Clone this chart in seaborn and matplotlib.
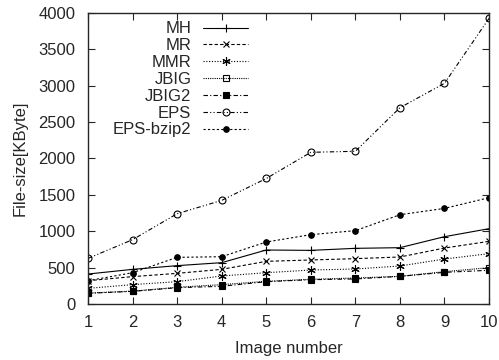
import pandas as pd
import numpy as np
import matplotlib
matplotlib.use('Agg')
import matplotlib.pyplot as plt
import seaborn as sns

# values (KByte)
images = [1, 2, 3, 4, 5, 6, 7, 8, 9, 10]
mh = [412, 476, 527, 568, 742, 737, 765, 774, 925, 1035]
mr = [320, 376, 421, 476, 586, 605, 623, 646, 769, 861]
mmr = [215, 266, 307, 385, 430, 467, 481, 522, 618, 692]
jbig = [150, 176, 229, 266, 311, 339, 357, 380, 444, 499]
jbig2 = [147, 174, 224, 243, 307, 334, 344, 380, 435, 463]
eps = [627, 884, 1241, 1424, 1725, 2085, 2099, 2698, 3033, 3926]
eps_bzip2 = [320, 430, 641, 650, 852, 953, 1008, 1227, 1314, 1461]

series = {
    'MH': mh, 'MR': mr, 'MMR': mmr, 'JBIG': jbig,
    'JBIG2': jbig2, 'EPS': eps, 'EPS-bzip2': eps_bzip2,
}

styles = {
    'MH': dict(ls='-', marker='+', ms=6, mfc='black'),
    'MR': dict(ls=(0, (3, 2)), marker='x', ms=5, mfc='black'),
    'MMR': dict(ls=(0, (1, 1.5)), marker=(6, 2, 0), ms=6, mfc='black'),
    'JBIG': dict(ls=(0, (1, 1)), marker='s', ms=5, mfc='none'),
    'JBIG2': dict(ls=(0, (4, 2, 1, 2)), marker='s', ms=5, mfc='black'),
    'EPS': dict(ls=(0, (4, 2, 1, 2, 1, 2)), marker='o', ms=5, mfc='none'),
    'EPS-bzip2': dict(ls=(0, (2, 2)), marker='o', ms=4, mfc='black'),
}

sns.set_style('ticks')
plt.rcParams['font.family'] = ['Liberation Sans', 'DejaVu Sans']

fig = plt.figure(figsize=(4.99, 3.6), dpi=100)
ax = fig.add_axes([0.1764, 0.1556, 0.8036, 0.8083])

for name, vals in series.items():
    df = pd.DataFrame({'image': images, 'size': vals})
    st = styles[name]
    sns.lineplot(data=df, x='image', y='size', ax=ax, color='black',
                 linewidth=0.8, linestyle=st['ls'], marker=st['marker'],
                 markersize=st['ms'], markerfacecolor=st['mfc'],
                 markeredgecolor='black', markeredgewidth=0.8, label=name)

ax.set_xlim(1, 10)
ax.set_ylim(0, 4000)
ax.set_xticks(images)
ax.set_yticks(np.arange(0, 4001, 500))
ax.tick_params(direction='in', top=True, right=True, labelsize=12,
               length=5, width=0.8)
ax.tick_params(axis='y', pad=9)
ax.tick_params(axis='x', pad=8)
for s in ax.spines.values():
    s.set_linewidth(1.0)
ax.set_xlabel('Image number', fontsize=12, labelpad=8)
ax.set_ylabel('File-size[KByte]', fontsize=12, labelpad=8)

leg = ax.legend(loc='upper left', bbox_to_anchor=(0.045, 0.994), markerfirst=False,
                frameon=False, fontsize=12, handlelength=2.7, handletextpad=0.7,
                labelspacing=0.11, borderaxespad=0.0)

# right-align the legend rows so labels sit flush against the line samples
for column in leg._legend_box.get_children()[1].get_children():
    column.align = 'right'

fig.savefig('out.png', dpi=100)
